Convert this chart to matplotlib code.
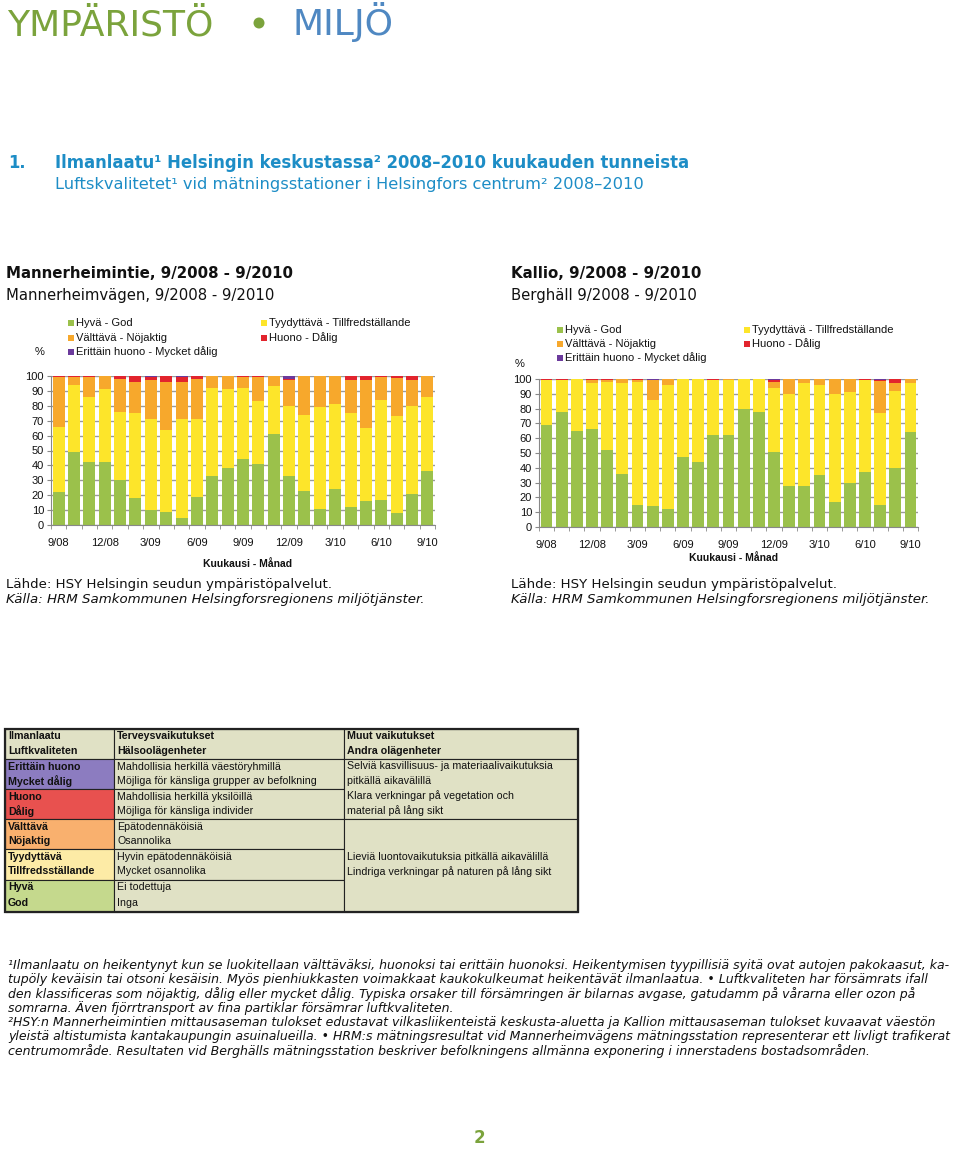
import numpy as np
import matplotlib
matplotlib.use('Agg')
import matplotlib.pyplot as plt
from matplotlib.patches import Rectangle, Circle

# ---------------------------------------------------------------
# data: share of hours (%) per month and air quality class
# ---------------------------------------------------------------
months = ['9/08', '10/08', '11/08', '12/08', '1/09', '2/09', '3/09', '4/09', '5/09',
          '6/09', '7/09', '8/09', '9/09', '10/09', '11/09', '12/09', '1/10', '2/10',
          '3/10', '4/10', '5/10', '6/10', '7/10', '8/10', '9/10']

classes = ['Hyvä - God', 'Tyydyttävä - Tillfredställande', 'Välttävä - Nöjaktig',
           'Huono - Dålig', 'Erittäin huono - Mycket dålig']

# Mannerheimintie
mh_hyva = [22, 49, 42, 42, 30, 18, 10, 9, 5, 19, 33, 38, 44, 41, 61, 33, 23, 11, 24, 12, 16, 17, 8, 21, 36]
mh_tyyd = [44, 45, 44, 49, 46, 57, 61, 55, 66, 52, 59, 53, 48, 42, 32, 47, 51, 68, 57, 63, 49, 67, 65, 59, 50]
mh_valt = [33, 5.5, 13.5, 9, 22, 21, 26, 32, 25, 27, 8, 9, 7.5, 16, 7, 17, 26, 21, 19, 22, 32, 15.5, 25.5, 17.5, 14]
mh_huono = [1, 0.5, 0.5, 0, 2, 4, 2.5, 4, 3.5, 2, 0, 0, 0.5, 1, 0, 1, 0, 0, 0, 3, 3, 0.5, 1.5, 2.5, 0]
mh_erit = [0, 0, 0, 0, 0, 0, 0.5, 0, 0.5, 0, 0, 0, 0, 0, 0, 2, 0, 0, 0, 0, 0, 0, 0, 0, 0]

# Kallio
ka_hyva = [69, 78, 65, 66, 52, 36, 15, 14, 12, 47, 44, 62, 62, 80, 78, 51, 28, 28, 35, 17, 30, 37, 15, 40, 64]
ka_tyyd = [30, 21, 35, 31, 46, 61, 83, 72, 84, 53, 56, 37.5, 37, 20, 22, 43, 62, 69, 61, 73, 61, 62, 62, 52, 33]
ka_valt = [0.5, 0.5, 0, 2, 1, 3, 1.5, 13, 4, 0, 0, 0, 1, 0, 0, 4, 10, 3, 4, 10, 9, 0.5, 21.5, 5, 3]
ka_huono = [0.5, 0.5, 0, 1, 1, 0, 0.5, 0.5, 0, 0, 0, 0.5, 0, 0, 0, 1, 0, 0, 0, 0, 0, 0.5, 1, 3, 0]
ka_erit = [0, 0, 0, 0, 0, 0, 0, 0.5, 0, 0, 0, 0, 0, 0, 0, 1, 0, 0, 0, 0, 0, 0, 0.5, 0, 0]

bar_colors = ['#9bc14b', '#fde52a', '#f7a82c', '#e2242d', '#6b3a9c']

# table rows
tab_class_fi = ['Erittäin huono', 'Huono', 'Välttävä', 'Tyydyttävä', 'Hyvä']
tab_class_sv = ['Mycket dålig', 'Dålig', 'Nöjaktig', 'Tillfredsställande', 'God']
tab_health_fi = ['Mahdollisia herkillä väestöryhmillä', 'Mahdollisia herkillä yksilöillä',
                 'Epätodennäköisiä', 'Hyvin epätodennäköisiä', 'Ei todettuja']
tab_health_sv = ['Möjliga för känsliga grupper av befolkning', 'Möjliga för känsliga individer',
                 'Osannolika', 'Mycket osannolika', 'Inga']
tab_colors = ['#8c7cc0', '#e8514f', '#f9b06e', '#fdeba6', '#c5d98d']

footnotes = [
    '¹Ilmanlaatu on heikentynyt kun se luokitellaan välttäväksi, huonoksi tai erittäin huonoksi. Heikentymisen tyypillisiä syitä ovat autojen pakokaasut, ka-',
    'tupöly keväisin tai otsoni kesäisin. Myös pienhiukkasten voimakkaat kaukokulkeumat heikentävät ilmanlaatua. • Luftkvaliteten har försämrats ifall',
    'den klassificeras som nöjaktig, dålig eller mycket dålig. Typiska orsaker till försämringen är bilarnas avgase, gatudamm på vårarna eller ozon på',
    'somrarna. Även fjörrtransport av fina partiklar försämrar luftkvaliteten.',
    '²HSY:n Mannerheimintien mittausaseman tulokset edustavat vilkasliikenteistä keskusta-aluetta ja Kallion mittausaseman tulokset kuvaavat väestön',
    'yleistä altistumista kantakaupungin asuinalueilla. • HRM:s mätningsresultat vid Mannerheimvägens mätningsstation representerar ett livligt trafikerat',
    'centrumområde. Resultaten vid Berghälls mätningsstation beskriver befolkningens allmänna exponering i innerstadens bostadsområden.',
]

W, H = 960, 1150
fig = plt.figure(figsize=(W / 100, H / 100), dpi=100)


def fx(x):
    return x / W


def fy(y):
    return 1 - y / H


def txt(x, y, s, **kw):
    kw.setdefault('va', 'center')
    kw.setdefault('family', 'DejaVu Sans')
    fig.text(fx(x), fy(y), s, **kw)


# page header
txt(7, 35, 'YMPÄRISTÖ', fontsize=26, color='#7ba33c', va='baseline')
fig.add_artist(Circle((2.59, (H - 23) / 100), 0.055, transform=fig.dpi_scale_trans,
                      color='#7ba33c', lw=0))
txt(293, 35, 'MILJÖ', fontsize=26, color='#4f88c2', va='baseline')

blue = '#1d8dc6'
txt(8, 163, '1.', fontsize=11.9, color=blue, fontweight='bold')
txt(55, 163, 'Ilmanlaatu¹ Helsingin keskustassa² 2008–2010 kuukauden tunneista',
    fontsize=11.9, color=blue, fontweight='bold')
txt(55, 185, 'Luftskvalitetet¹ vid mätningsstationer i Helsingfors centrum² 2008–2010',
    fontsize=11.7, color=blue)

# station titles and sources
stations = [(6, 'Mannerheimintie, 9/2008 - 9/2010', 'Mannerheimvägen, 9/2008 - 9/2010'),
            (511, 'Kallio, 9/2008 - 9/2010', 'Berghäll 9/2008 - 9/2010')]
for x0, t1, t2 in stations:
    txt(x0, 273, t1, fontsize=10.8, fontweight='bold', color='#111111')
    txt(x0, 295, t2, fontsize=10.7, color='#111111')
    txt(x0, 585, 'Lähde: HSY Helsingin seudun ympäristöpalvelut.', fontsize=9.6, color='#111111')
    txt(x0, 600, 'Källa: HRM Samkommunen Helsingforsregionens miljötjänster.', fontsize=9.6,
        style='italic', color='#111111')


# ---------------------------------------------------------------
# stacked bar charts
# ---------------------------------------------------------------
def draw_chart(left, right, top, bottom, series, pct_xy, leg_x, leg_y, xlab_y):
    ax = fig.add_axes([fx(left), fy(bottom), fx(right - left), (bottom - top) / H])
    x = np.arange(len(months))
    base = np.zeros(len(months))
    for vals, col in zip(series, bar_colors):
        vals = np.array(vals, dtype=float)
        ax.bar(x, vals, 0.78, bottom=base, color=col, zorder=2, lw=0)
        base += vals
    ax.set_xlim(-0.5, len(months) - 0.5)
    ax.set_ylim(0, 100)
    ax.set_yticks(np.arange(0, 101, 10))
    ax.yaxis.grid(True, color='#9a9a9a', lw=1, zorder=0)
    ax.set_axisbelow(True)
    ax.set_xticks(x[::3])
    ax.set_xticklabels(months[::3])
    ax.set_xticks(np.arange(-0.5, len(months), 1), minor=True)
    ax.tick_params(axis='x', which='major', length=0, pad=9, labelsize=8, labelcolor='#111111')
    ax.tick_params(axis='x', which='minor', length=3, color='#888888')
    ax.tick_params(axis='y', length=3, color='#888888', labelsize=8, labelcolor='#111111', pad=2)
    for tl in ax.get_xticklabels() + ax.get_yticklabels():
        tl.set_family('Liberation Sans')
    for s in ['top', 'right']:
        ax.spines[s].set_visible(False)
    for s in ['left', 'bottom']:
        ax.spines[s].set_color('#888888')
    txt((left + right) / 2 + 5, xlab_y, 'Kuukausi - Månad', fontsize=7.5, fontweight='bold',
        ha='center', family='Liberation Sans', color='#111111')
    txt(pct_xy[0], pct_xy[1], '%', fontsize=8, family='Liberation Sans', ha='center', color='#111111')
    # legend, two columns like in the original
    order = [0, 2, 4, 1, 3]
    for k, i in enumerate(order):
        col = 0 if k < 3 else 1
        row = k if k < 3 else k - 3
        lx = leg_x[col]
        ly = leg_y[row]
        fig.add_artist(Rectangle((fx(lx - 3), fy(ly + 3)), 6 / W, 6 / H, transform=fig.transFigure,
                                 color=bar_colors[i], lw=0))
        txt(lx + 5, ly, classes[i], fontsize=8, family='Liberation Sans', color='#111111')
    return ax


draw_chart(51, 435, 376, 525, [mh_hyva, mh_tyyd, mh_valt, mh_huono, mh_erit],
           (40, 352), (71, 264), (323, 338, 352), 564)
draw_chart(539, 918, 379, 527, [ka_hyva, ka_tyyd, ka_valt, ka_huono, ka_erit],
           (520, 364), (560, 747), (330, 344, 358), 558)

# ---------------------------------------------------------------
# classification table
# ---------------------------------------------------------------
tx = [5, 114, 344, 578]
ty = [729, 759, 789, 819, 849, 880, 912]
bg = '#e0e1c5'


def rect(x0, y0, x1, y1, fc, lw=0.8):
    fig.add_artist(Rectangle((fx(x0), fy(y1)), (x1 - x0) / W, (y1 - y0) / H,
                             transform=fig.transFigure, facecolor=fc, edgecolor='#222222', lw=lw))


# header
rect(tx[0], ty[0], tx[1], ty[1], bg)
rect(tx[1], ty[0], tx[2], ty[1], bg)
rect(tx[2], ty[0], tx[3], ty[1], bg)
tf = dict(fontsize=7.7, family='Liberation Sans', color='#111111')
txt(tx[0] + 3, 736, 'Ilmanlaatu', fontweight='bold', **tf)
txt(tx[0] + 3, 751, 'Luftkvaliteten', fontweight='bold', **tf)
txt(tx[1] + 3, 736, 'Terveysvaikutukset', fontweight='bold', **tf)
txt(tx[1] + 3, 751, 'Hälsoolägenheter', fontweight='bold', **tf)
txt(tx[2] + 3, 736, 'Muut vaikutukset', fontweight='bold', **tf)
txt(tx[2] + 3, 751, 'Andra olägenheter', fontweight='bold', **tf)

for i in range(5):
    y0, y1 = ty[i + 1], ty[i + 2]
    ya, yb = y0 + 7.5, y0 + 22.5
    rect(tx[0], y0, tx[1], y1, tab_colors[i])
    rect(tx[1], y0, tx[2], y1, bg)
    txt(tx[0] + 3, ya, tab_class_fi[i], fontweight='bold', **tf)
    txt(tx[0] + 3, yb, tab_class_sv[i], fontweight='bold', **tf)
    txt(tx[1] + 3, ya, tab_health_fi[i], **tf)
    txt(tx[1] + 3, yb, tab_health_sv[i], **tf)

# other effects column (merged cells)
rect(tx[2], ty[1], tx[3], ty[3], bg)
rect(tx[2], ty[3], tx[3], ty[6], bg)
txt(tx[2] + 3, 766, 'Selviä kasvillisuus- ja materiaalivaikutuksia', **tf)
txt(tx[2] + 3, 781, 'pitkällä aikavälillä', **tf)
txt(tx[2] + 3, 796, 'Klara verkningar på vegetation och', **tf)
txt(tx[2] + 3, 811, 'material på lång sikt', **tf)
txt(tx[2] + 3, 857, 'Lieviä luontovaikutuksia pitkällä aikavälillä', **tf)
txt(tx[2] + 3, 872, 'Lindriga verkningar på naturen på lång sikt', **tf)
rect(tx[0], ty[0], tx[3], ty[6], 'none', lw=1.6)

# footnotes
for k, line in enumerate(footnotes):
    txt(8, 965 + k * 14.3, line, fontsize=9.0, style='italic', color='#111111')

txt(479, 1138, '2', fontsize=12, fontweight='bold', color='#7ba33c', ha='center')

fig.savefig('out.png', dpi=100)
